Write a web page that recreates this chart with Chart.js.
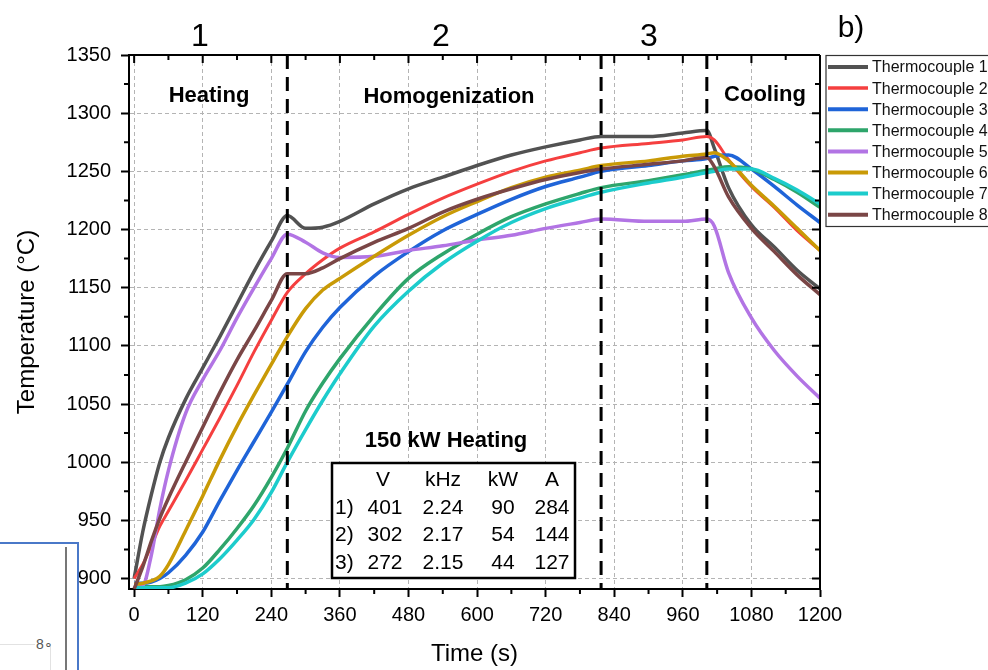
<!DOCTYPE html>
<html>
<head>
<meta charset="utf-8">
<script src="https://cdn.jsdelivr.net/npm/chart.js@4.4.1/dist/chart.umd.min.js"></script>
<style>
  body { margin: 0; background: #fff; }
  #wrap { position: relative; width: 988px; height: 670px; overflow: hidden; }
  #shot { position: absolute; left: 0; top: 542px; width: 77px; height: 128px; background: #fff;
          border-top: 2px solid #4a78c8; border-right: 2px solid #4a78c8; }
  #shotInner { position: absolute; left: 0; top: 3px; width: 65px; bottom: 0; border-right: 2px solid #777; }
  #shotH { position: absolute; left: 0; top: 97px; width: 35px; border-top: 1px solid #e2e2e2; }
  #shotV { position: absolute; left: 50px; top: 97px; bottom: 0; border-left: 1px solid #e2e2e2; }
  #shotText { position: absolute; left: 36px; top: 89px; font: 14px "Liberation Sans", Arial, sans-serif; color: #555; }
</style>
</head>
<body>
<div id="wrap">
  <canvas id="tempChart" width="988" height="670"></canvas>
  <div id="shot"><div id="shotInner"><div id="shotH"></div><div id="shotV"></div><div id="shotText">8∘</div></div></div>
</div>
<script>
// Thermocouple readings, 150 kW heating run
const times = [0, 15, 30, 45, 60, 90, 120, 150, 180, 210, 240, 268, 300, 330, 360, 420, 480, 540, 600, 660, 720, 780, 817, 900, 960, 1002, 1015, 1040, 1080, 1120, 1160, 1200];
const tc1 = [900, 940, 972, 1000, 1021, 1054, 1081, 1108, 1136, 1164, 1190, 1212, 1201, 1202, 1207, 1222, 1235, 1245, 1255, 1264, 1271, 1277, 1280, 1280, 1283, 1285, 1270, 1236, 1204, 1185, 1165, 1149];
const tc2 = [900, 912, 928, 945, 958, 984, 1011, 1038, 1066, 1095, 1122, 1146, 1162, 1174, 1184, 1198, 1213, 1227, 1239, 1250, 1259, 1266, 1270, 1274, 1277, 1280, 1277, 1260, 1237, 1219, 1199, 1182];
const tc3 = [896, 896, 897, 900, 905, 920, 940, 967, 993, 1018, 1043, 1067, 1095, 1116, 1133, 1160, 1181, 1199, 1213, 1226, 1237, 1245, 1250, 1255, 1259, 1261, 1263, 1264, 1252, 1237, 1221, 1206];
const tc4 = [893, 893, 893, 893, 894, 899, 909, 925, 943, 963, 987, 1012, 1044, 1068, 1089, 1126, 1158, 1179, 1196, 1211, 1222, 1231, 1236, 1242, 1247, 1251, 1252, 1254, 1252, 1243, 1232, 1219];
const tc5 = [893, 894, 920, 960, 993, 1042, 1071, 1096, 1124, 1150, 1175, 1196, 1189, 1180, 1176, 1177, 1182, 1186, 1191, 1195, 1201, 1206, 1209, 1207, 1207, 1209, 1203, 1163, 1124, 1096, 1074, 1055];
const tc6 = [895, 896, 898, 902, 912, 941, 971, 1002, 1031, 1058, 1084, 1108, 1132, 1148, 1158, 1177, 1195, 1211, 1224, 1236, 1245, 1251, 1255, 1259, 1263, 1265, 1266, 1259, 1238, 1220, 1201, 1182];
const tc7 = [892, 892, 892, 892, 892, 896, 904, 917, 933, 951, 974, 1000, 1028, 1053, 1076, 1117, 1147, 1171, 1190, 1206, 1218, 1227, 1232, 1240, 1245, 1249, 1250, 1252, 1252, 1244, 1234, 1222];
const tc8 = [891, 910, 932, 952, 969, 1000, 1030, 1060, 1088, 1113, 1139, 1162, 1162, 1167, 1175, 1189, 1201, 1215, 1226, 1235, 1243, 1249, 1252, 1256, 1259, 1262, 1254, 1228, 1201, 1181, 1161, 1144];

const seriesNames = ['Thermocouple 1', 'Thermocouple 2', 'Thermocouple 3', 'Thermocouple 4', 'Thermocouple 5', 'Thermocouple 6', 'Thermocouple 7', 'Thermocouple 8'];
const seriesColors = ['#525252', '#f53f3f', '#1f64d8', '#2ea56b', '#b274e4', '#c99a06', '#1ccccc', '#7a4646'];

const xTickValues = [0, 120, 240, 360, 480, 600, 720, 840, 960, 1080, 1200];
const yTickValues = [900, 950, 1000, 1050, 1100, 1150, 1200, 1250, 1300, 1350];

// stage boundaries (s)
const phaseTimes = [268, 817, 1002];

// power settings table
const tableHeader = ['V', 'kHz', 'kW', 'A'];
const tableRows = [
    ['1)', '401', '2.24', '90', '284'],
    ['2)', '302', '2.17', '54', '144'],
    ['3)', '272', '2.15', '44', '127']
];

const FONT = '"Liberation Sans", Arial, sans-serif';
const allSeries = [tc1, tc2, tc3, tc4, tc5, tc6, tc7, tc8];

const datasets = allSeries.map(function(values, i) {
    return {
        label: seriesNames[i],
        data: times.map((t, j) => ({ x: t, y: values[j] })),
        borderColor: seriesColors[i],
        borderWidth: i === 1 ? 3 : 3.5,
        pointRadius: 0,
        fill: false,
        cubicInterpolationMode: 'monotone',
        order: 8 - i
    };
});

const decorPlugin = {
    id: 'decor',
    afterDatasetsDraw(chart) {
        const { ctx, chartArea: a, scales: { x } } = chart;
        ctx.save();
        ctx.strokeStyle = '#000';
        ctx.lineWidth = 3;
        ctx.setLineDash([14, 8]);
        phaseTimes.forEach(function(t) {
            const px = x.getPixelForValue(t);
            ctx.beginPath();
            ctx.moveTo(px, a.top);
            ctx.lineTo(px, a.bottom);
            ctx.stroke();
        });
        ctx.restore();
    },
    afterDraw(chart) {
        const { ctx, chartArea: a, scales: { x, y } } = chart;
        ctx.save();
        ctx.strokeStyle = '#000';
        ctx.lineWidth = 2;

        // frame top / right
        ctx.beginPath();
        ctx.moveTo(a.left, a.top); ctx.lineTo(a.right, a.top);
        ctx.moveTo(a.right, a.top); ctx.lineTo(a.right, a.bottom);
        ctx.stroke();

        // mirrored major ticks + minor ticks
        ctx.beginPath();
        xTickValues.forEach(function(v) {
            const px = x.getPixelForValue(v);
            ctx.moveTo(px, a.top); ctx.lineTo(px, a.top + 8);
        });
        yTickValues.forEach(function(v) {
            const py = y.getPixelForValue(v);
            ctx.moveTo(a.right, py); ctx.lineTo(a.right - 8, py);
        });
        for (let v = 60; v < 1200; v += 120) {
            const px = x.getPixelForValue(v);
            ctx.moveTo(px, a.bottom); ctx.lineTo(px, a.bottom + 5);
            ctx.moveTo(px, a.top); ctx.lineTo(px, a.top + 5);
        }
        for (let v = 925; v < 1350; v += 50) {
            const py = y.getPixelForValue(v);
            ctx.moveTo(a.left, py); ctx.lineTo(a.left - 5, py);
            ctx.moveTo(a.right, py); ctx.lineTo(a.right - 5, py);
        }
        ctx.stroke();

        // stage numbers and panel tag
        ctx.fillStyle = '#000';
        ctx.textAlign = 'center';
        ctx.textBaseline = 'middle';
        ctx.font = '32px ' + FONT;
        ctx.fillText('1', 200, 37);
        ctx.fillText('2', 441, 37);
        ctx.fillText('3', 649, 37);
        ctx.textBaseline = 'alphabetic';
        ctx.font = '30px ' + FONT;
        ctx.fillText('b)', 851, 37);

        // stage names
        ctx.textBaseline = 'middle';
        ctx.font = 'bold 22px ' + FONT;
        ctx.fillText('Heating', 209, 96);
        ctx.fillText('Homogenization', 449, 97);
        ctx.fillText('Cooling', 765, 95);
        ctx.fillText('150 kW Heating', 446, 441);

        // settings table
        ctx.fillStyle = '#fff';
        ctx.fillRect(332, 463, 243, 115);
        ctx.lineWidth = 2.5;
        ctx.strokeRect(332, 463, 243, 115);
        ctx.fillStyle = '#000';
        ctx.font = '21px ' + FONT;
        const colX = [383, 443, 503, 552];
        tableHeader.forEach((h, i) => ctx.fillText(h, colX[i], 480));
        tableRows.forEach(function(row, r) {
            const ry = 508 + r * 27.5;
            ctx.textAlign = 'left';
            ctx.fillText(row[0], 335, ry);
            ctx.textAlign = 'center';
            for (let c = 1; c < row.length; c++) ctx.fillText(row[c], colX[c - 1] + (c === 1 ? 2 : 0), ry);
        });

        // legend
        ctx.fillStyle = '#fff';
        ctx.fillRect(826, 55, 200, 172);
        ctx.lineWidth = 1.2;
        ctx.strokeStyle = '#333';
        ctx.strokeRect(826, 55.5, 200, 171);
        ctx.font = '16px ' + FONT;
        ctx.textAlign = 'left';
        chart.data.datasets.forEach(function(ds, i) {
            const ry = 67 + i * 21.1;
            ctx.strokeStyle = ds.borderColor;
            ctx.lineWidth = ds.borderWidth + 0.5;
            ctx.beginPath();
            ctx.moveTo(828, ry); ctx.lineTo(868, ry);
            ctx.stroke();
            ctx.fillStyle = '#111';
            ctx.fillText(ds.label, 872, ry + 1);
        });
        ctx.restore();
    }
};

new Chart(document.getElementById('tempChart'), {
    type: 'line',
    data: { datasets: datasets },
    options: {
        responsive: false,
        animation: false,
        layout: { padding: { left: 0, right: 168, top: 55, bottom: 0 } },
        plugins: {
            legend: { display: false },
            tooltip: { enabled: false }
        },
        scales: {
            x: {
                type: 'linear',
                min: -9,
                max: 1200,
                afterBuildTicks: function(scale) {
                    scale.ticks = xTickValues.map(v => ({ value: v }));
                },
                afterFit: function(scale) { scale.height = 81; },
                grid: {
                    color: '#b4b4b4',
                    lineWidth: 1,
                    tickColor: '#000',
                    tickLength: 8,
                    tickWidth: 2
                },
                border: { display: true, color: '#000', width: 2, dash: [4, 3] },
                ticks: {
                    color: '#000',
                    font: { family: FONT, size: 20 },
                    padding: 6,
                    maxRotation: 0,
                    autoSkip: false,
                    callback: function(value) { return String(value); }
                },
                title: {
                    display: true,
                    text: 'Time (s)',
                    color: '#000',
                    font: { family: FONT, size: 24 },
                    padding: { top: 0, bottom: 1 }
                }
            },
            y: {
                min: 891,
                max: 1350,
                afterBuildTicks: function(scale) {
                    scale.ticks = yTickValues.map(v => ({ value: v }));
                },
                afterFit: function(scale) { scale.width = 129; },
                grid: {
                    color: '#b4b4b4',
                    lineWidth: 1,
                    tickColor: '#000',
                    tickLength: 8,
                    tickWidth: 2
                },
                border: { display: true, color: '#000', width: 2, dash: [4, 3] },
                ticks: {
                    color: '#000',
                    font: { family: FONT, size: 20 },
                    padding: 10,
                    autoSkip: false,
                    callback: function(value) { return String(value); }
                },
                title: {
                    display: true,
                    text: 'Temperature (°C)',
                    color: '#000',
                    font: { family: FONT, size: 24 },
                    padding: { top: 13, bottom: 0 }
                }
            }
        }
    },
    plugins: [decorPlugin]
});
</script>
</body>
</html>
